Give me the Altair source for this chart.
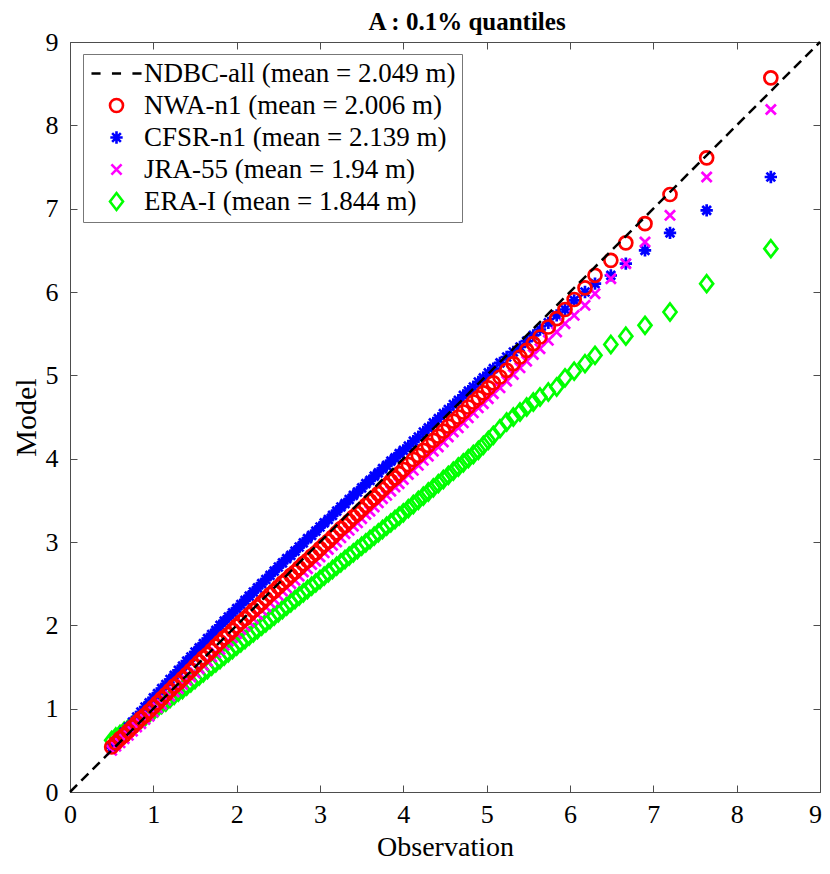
import altair as alt
import pandas as pd

# ---------------- data ----------------
series_names = [
    "NDBC-all (mean = 2.049 m)",
    "NWA-n1 (mean = 2.006 m)",
    "CFSR-n1 (mean = 2.139 m)",
    "JRA-55 (mean = 1.94 m)",
    "ERA-I (mean = 1.844 m)",
]

# observation quantiles (shared x)
obs = [
    0.50, 0.55, 0.60, 0.65, 0.70, 0.75, 0.80, 0.85, 0.90, 0.95,
    1.00, 1.05, 1.10, 1.15, 1.20, 1.25, 1.30, 1.35, 1.40, 1.45,
    1.50, 1.55, 1.60, 1.65, 1.70, 1.75, 1.80, 1.85, 1.90, 1.95,
    2.00, 2.05, 2.10, 2.15, 2.20, 2.25, 2.30, 2.35, 2.40, 2.45,
    2.50, 2.55, 2.60, 2.65, 2.70, 2.75, 2.80, 2.85, 2.90, 2.95,
    3.00, 3.05, 3.10, 3.15, 3.20, 3.25, 3.30, 3.35, 3.40, 3.45,
    3.50, 3.55, 3.60, 3.65, 3.70, 3.75, 3.80, 3.85, 3.90, 3.95,
    4.00,
    4.06, 4.12, 4.18, 4.24, 4.30, 4.36, 4.42, 4.48, 4.54, 4.60,
    4.66, 4.72, 4.78, 4.84, 4.90, 4.96, 5.02, 5.08, 5.16,
    5.24, 5.32, 5.40, 5.48, 5.56, 5.64, 5.74, 5.84, 5.94, 6.05,
    6.18, 6.30, 6.49, 6.67, 6.90, 7.20, 7.64, 8.41,
]

nwa = [
    0.54, 0.59, 0.64, 0.68, 0.73, 0.78, 0.83, 0.88, 0.92, 0.97,
    1.02, 1.07, 1.12, 1.17, 1.22, 1.27, 1.31, 1.36, 1.41, 1.46,
    1.51, 1.56, 1.61, 1.65, 1.70, 1.75, 1.80, 1.85, 1.89, 1.94,
    1.99, 2.04, 2.08, 2.13, 2.18, 2.22, 2.27, 2.32, 2.37, 2.41,
    2.46, 2.51, 2.55, 2.60, 2.64, 2.69, 2.74, 2.78, 2.83, 2.87,
    2.92, 2.97, 3.01, 3.06, 3.11, 3.16, 3.20, 3.25, 3.30, 3.34,
    3.39, 3.44, 3.49, 3.53, 3.58, 3.63, 3.68, 3.73, 3.77, 3.82,
    3.87,
    3.93, 3.99, 4.04, 4.10, 4.16, 4.22, 4.27, 4.33, 4.39, 4.45,
    4.50, 4.56, 4.62, 4.68, 4.73, 4.79, 4.85, 4.91, 4.98,
    5.06, 5.14, 5.22, 5.30, 5.38, 5.46, 5.58, 5.68, 5.79, 5.91,
    6.05, 6.20, 6.38, 6.59, 6.82, 7.17, 7.61, 8.57,
]

cfsr = [
    0.53, 0.59, 0.65, 0.72, 0.78, 0.84, 0.90, 0.96, 1.02, 1.07,
    1.13, 1.18, 1.24, 1.29, 1.35, 1.40, 1.46, 1.51, 1.57, 1.62,
    1.68, 1.73, 1.78, 1.84, 1.89, 1.94, 2.00, 2.05, 2.10, 2.15,
    2.20, 2.25, 2.30, 2.35, 2.40, 2.45, 2.50, 2.55, 2.60, 2.65,
    2.70, 2.75, 2.80, 2.84, 2.89, 2.94, 2.99, 3.04, 3.08, 3.13,
    3.18, 3.23, 3.27, 3.32, 3.37, 3.42, 3.46, 3.51, 3.56, 3.60,
    3.65, 3.70, 3.74, 3.79, 3.83, 3.88, 3.92, 3.97, 4.01, 4.06,
    4.10,
    4.15, 4.21, 4.26, 4.32, 4.37, 4.43, 4.48, 4.54, 4.59, 4.65,
    4.70, 4.76, 4.81, 4.86, 4.92, 4.97, 5.03, 5.08, 5.15,
    5.22, 5.28, 5.34, 5.41, 5.48, 5.55, 5.63, 5.72, 5.79, 5.90,
    6.00, 6.10, 6.20, 6.34, 6.50, 6.71, 6.98, 7.38,
]

jra = [
    0.50, 0.55, 0.59, 0.64, 0.68, 0.73, 0.78, 0.82, 0.87, 0.91,
    0.96, 1.01, 1.05, 1.10, 1.15, 1.20, 1.24, 1.29, 1.34, 1.38,
    1.43, 1.48, 1.52, 1.57, 1.62, 1.67, 1.71, 1.76, 1.81, 1.85,
    1.90, 1.95, 1.99, 2.04, 2.08, 2.13, 2.18, 2.22, 2.27, 2.31,
    2.36, 2.41, 2.45, 2.50, 2.54, 2.59, 2.64, 2.68, 2.73, 2.77,
    2.82, 2.87, 2.91, 2.96, 3.00, 3.05, 3.10, 3.14, 3.19, 3.23,
    3.28, 3.33, 3.37, 3.42, 3.47, 3.52, 3.56, 3.61, 3.66, 3.70,
    3.75,
    3.81, 3.86, 3.92, 3.98, 4.03, 4.09, 4.14, 4.20, 4.26, 4.32,
    4.37, 4.43, 4.49, 4.55, 4.61, 4.66, 4.72, 4.78, 4.85,
    4.93, 5.01, 5.09, 5.17, 5.25, 5.32, 5.42, 5.52, 5.62, 5.72,
    5.84, 5.98, 6.16, 6.34, 6.60, 6.92, 7.38, 8.19,
]

era = [
    0.62, 0.66, 0.69, 0.73, 0.76, 0.80, 0.83, 0.87, 0.90, 0.94,
    0.97, 1.01, 1.05, 1.08, 1.12, 1.16, 1.20, 1.23, 1.27, 1.31,
    1.35, 1.39, 1.43, 1.47, 1.51, 1.55, 1.59, 1.63, 1.67, 1.71,
    1.75, 1.79, 1.83, 1.87, 1.91, 1.95, 1.99, 2.03, 2.07, 2.11,
    2.15, 2.19, 2.23, 2.27, 2.31, 2.35, 2.39, 2.43, 2.47, 2.51,
    2.55, 2.59, 2.63, 2.67, 2.71, 2.75, 2.79, 2.83, 2.87, 2.91,
    2.95, 2.99, 3.03, 3.07, 3.11, 3.15, 3.19, 3.23, 3.27, 3.31,
    3.35,
    3.40, 3.45, 3.50, 3.55, 3.60, 3.65, 3.70, 3.75, 3.80, 3.85,
    3.90, 3.95, 4.00, 4.05, 4.10, 4.16, 4.22, 4.28, 4.36,
    4.44, 4.50, 4.56, 4.62, 4.68, 4.74, 4.80, 4.86, 4.97, 5.05,
    5.14, 5.24, 5.37, 5.47, 5.60, 5.76, 6.10, 6.52,
]

# 1:1 reference line (NDBC-all)
diag_x = [0, 9]
diag_y = [0, 9]

tick_values = [0, 1, 2, 3, 4, 5, 6, 7, 8, 9]

# ---------------- styles ----------------
colors = ["#000000", "#ff0000", "#0000ff", "#ff00ff", "#00ff00"]
dash_path = "M-3.85,0H-2.45M-0.7,0H0.7M2.45,0H3.85"
star_path = "M-0.95,0L0.95,0M0,-0.95L0,0.95M-0.67,-0.67L0.67,0.67M-0.67,0.67L0.67,-0.67"
x_path = "M-0.78,-0.78L0.78,0.78M-0.78,0.78L0.78,-0.78"
diamond_path = "M0,-1.3L1,0L0,1.3L-1,0Z"
shapes = [dash_path, "circle", star_path, x_path, diamond_path]

FONT = "Liberation Serif"
W = 750
H = 750
GRAY = "#4d4d4d"

frames = []
for name, vals in zip(series_names[1:], [nwa, cfsr, jra, era]):
    frames.append(pd.DataFrame({"obs": obs, "model": vals, "series": name}))
df = pd.concat(frames, ignore_index=True)
diag_df = pd.DataFrame({"obs": diag_x, "model": diag_y})

xs = alt.Scale(domain=[0, 9], nice=False, zero=False)
ys = alt.Scale(domain=[0, 9], nice=False, zero=False)

legend = alt.Legend(
    title=None, orient="none", legendX=13, legendY=12,
    labelFont=FONT, labelFontSize=27, labelColor="black", labelLimit=0,
    symbolSize=169, symbolStrokeWidth=2.6, symbolOpacity=1,
    symbolOffset=14, labelOffset=14, rowPadding=4, padding=6,
    strokeColor="#777777", fillColor="white",
)
color_enc = alt.Color("series:N", scale=alt.Scale(domain=series_names, range=colors), legend=legend)
shape_enc = alt.Shape("series:N", scale=alt.Scale(domain=series_names, range=shapes), legend=legend)


def tick_axis(orient):
    return alt.Axis(orient=orient, offset=-W, values=tick_values, labels=False,
                    domain=False, grid=False, ticks=True, tickSize=7,
                    tickColor=GRAY, tickWidth=1, title=None)


label_x_axis = alt.Axis(orient="bottom", values=tick_values, ticks=False, domain=False, grid=False,
                        labelFont=FONT, labelFontSize=26, labelColor="black", labelPadding=9,
                        labelFlush=False, labelOverlap=False,
                        labelOffset={"condition": {"test": "datum.value == 9", "value": -5}, "value": 0},
                        title="Observation", titleFont=FONT, titleFontSize=28,
                        titleFontWeight="normal", titleColor="black", titlePadding=6)
label_y_axis = alt.Axis(orient="left", values=tick_values, ticks=False, domain=False, grid=False,
                        labelFont=FONT, labelFontSize=26, labelColor="black", labelPadding=12,
                        labelFlush=False, labelOverlap=False,
                        title="Model", titleFont=FONT, titleFontSize=30,
                        titleFontWeight="normal", titleColor="black", titlePadding=4)

axes_for = {
    series_names[4]: (tick_axis("top"), tick_axis("right")),
    series_names[2]: (tick_axis("bottom"), tick_axis("left")),
    series_names[3]: (None, None),
    series_names[1]: (None, None),
}

layers = []
for name in [series_names[4], series_names[2], series_names[3], series_names[1]]:
    ax, ay = axes_for[name]
    layers.append(
        alt.Chart(df)
        .transform_filter(alt.datum.series == name)
        .mark_point(filled=False, size=169, strokeWidth=2.7, opacity=1)
        .encode(
            x=alt.X("obs:Q", scale=xs, axis=ax),
            y=alt.Y("model:Q", scale=ys, axis=ay),
            color=color_enc,
            shape=shape_enc,
        )
    )

diag = (
    alt.Chart(diag_df)
    .mark_line(color="black", strokeDash=[10, 6], strokeWidth=2.5)
    .encode(
        x=alt.X("obs:Q", scale=xs, axis=label_x_axis),
        y=alt.Y("model:Q", scale=ys, axis=label_y_axis),
    )
)
layers.append(diag)

chart = (
    alt.layer(*layers)
    .resolve_axis(x="independent", y="independent")
    .properties(
        width=W, height=H,
        autosize=alt.AutoSizeParams(type="none"),
        padding={"left": 62, "top": 34, "right": 2, "bottom": 71},
        title=alt.Title("A : 0.1% quantiles", font=FONT, fontSize=25, fontWeight="bold",
                        color="black", anchor="middle", offset=9, dy=15, dx=22),
        background="white",
    )
    .configure_view(stroke=GRAY, strokeWidth=1)
)

chart.save("out.html", embed_options={"renderer": "svg", "actions": False})
